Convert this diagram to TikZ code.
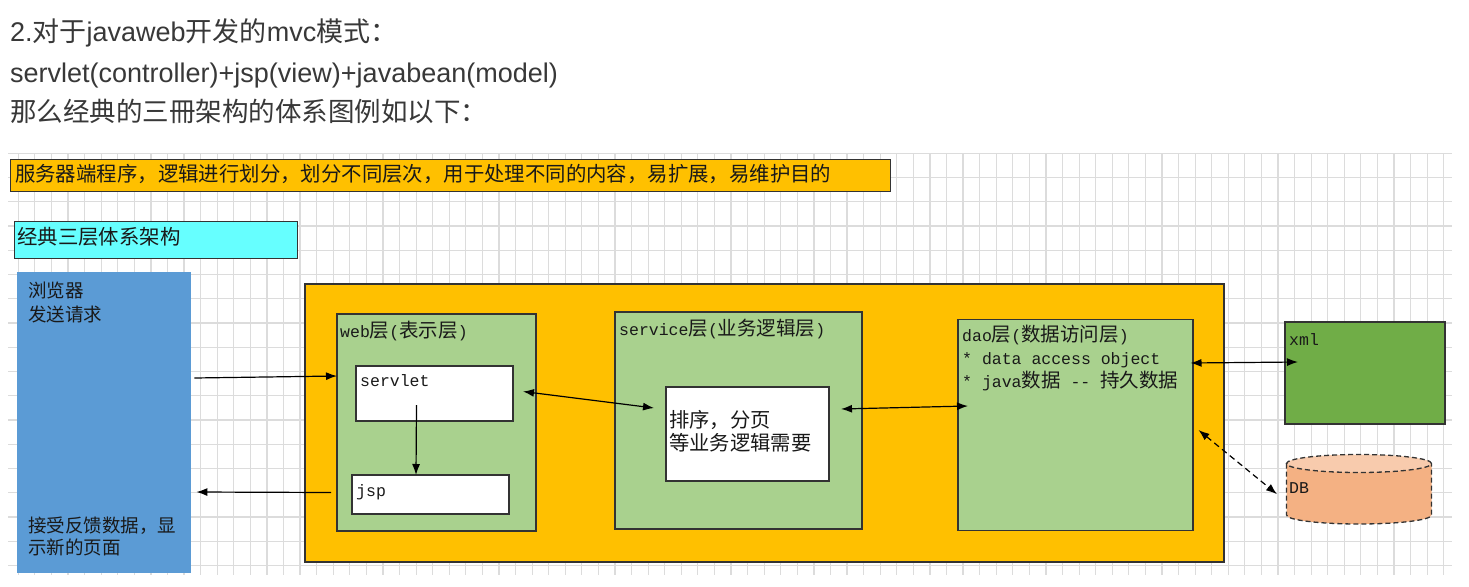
\documentclass[tikz,border=0pt]{standalone}
\usepackage{fontspec}
\setmainfont{Liberation Sans}
\newfontfamily\cjk{Noto Sans CJK SC}
\newfontfamily\mono{Liberation Mono}
\usetikzlibrary{arrows.meta}

\definecolor{layerorange}{HTML}{FFC000}
\definecolor{aqua}{HTML}{66FFFF}
\definecolor{browserblue}{HTML}{5B9BD5}
\definecolor{layergreen}{HTML}{A9D18E}
\definecolor{xmlgreen}{HTML}{70AD47}
\definecolor{dbfill}{HTML}{F4B183}
\definecolor{dbtop}{HTML}{F8CBAD}
\definecolor{gridgray}{HTML}{DCDCDC}
\definecolor{boxline}{HTML}{333333}
\definecolor{titlegray}{HTML}{383838}

\newcommand{\zh}[1]{{\cjk\fontsize{19.5}{22}\selectfont #1}}

\begin{document}
\begin{tikzpicture}[x=1pt,y=-1pt,
  box/.style={draw=boxline,line width=1.4pt,inner sep=0pt,outer sep=0pt,anchor=north west},
  txt/.style={anchor=base west,inner sep=0pt,text=black!90},
  lbl/.style={txt,font=\mono\fontsize{16.5}{20}\selectfont},
  zhtxt/.style={txt,font=\cjk\fontsize{#1}{24}\selectfont},
  arr/.style={-{Latex[length=11pt,width=8pt]},line width=1.2pt},
  dbl/.style={{Latex[length=11pt,width=8pt]}-{Latex[length=11pt,width=8pt]},line width=1.2pt}]
\fill[white] (0,0) rectangle (1469,586);
\useasboundingbox (0,0) rectangle (1469,586);

% heading
\node[txt,font=\fontsize{27}{30}\selectfont,text=titlegray] (head1) at (10,42) {2.{\cjk 对于}javaweb{\cjk 开发的}mvc{\cjk 模式：}};
\node[txt,font=\fontsize{27}{30}\selectfont,text=titlegray] (head2) at (10,82) {servlet(controller)+jsp(view)+javabean(model)};
\node[txt,font=\cjk\fontsize{26.5}{30}\selectfont,text=titlegray] (head3) at (10,121) {那么经典的三冊架构的体系图例如以下：};

% grid
\foreach \i in {0,...,86}
  \draw[gridgray,line width=1.2pt] ({18.3+16.575*\i},153.3) -- ({18.3+16.575*\i},575);
\foreach \j in {0,...,17}
  \draw[gridgray,line width=1.2pt] (8,{153.3+24.24*\j}) -- (1452,{153.3+24.24*\j});

% notes
\node[box,fill=layerorange,minimum width=880pt,minimum height=32pt] (note) at (10.5,159.5) {};
\node[zhtxt=20.4] (notetext) at (15,181) {服务器端程序，逻辑进行划分，划分不同层次，用于处理不同的内容，易扩展，易维护目的};
\node[box,fill=aqua,minimum width=283pt,minimum height=37pt] (classic) at (14.5,221.5) {};
\node[zhtxt=20.4] (classictext) at (17,244.5) {经典三层体系架构};

% browser
\node[anchor=north west,fill=browserblue,inner sep=0pt,minimum width=174pt,minimum height=301pt] (browser) at (17,272) {};
\node[zhtxt=18.5] (send1) at (28,297) {浏览器};
\node[zhtxt=18.5] (send2) at (28,321) {发送请求};
\node[zhtxt=18.5] (recv1) at (28,532) {接受反馈数据，显};
\node[zhtxt=18.5] (recv2) at (28,554) {示新的页面};

% server
\node[box,fill=layerorange,minimum width=919pt,minimum height=278pt] (server) at (305,284) {};

% web layer
\node[box,fill=layergreen,minimum width=199pt,minimum height=217pt] (web) at (337,314) {};
\node[lbl] (webtext) at (340,337) {web\zh{层}(\zh{表示层})};
\node[box,fill=white,minimum width=157pt,minimum height=55pt] (servlet) at (356,366) {};
\node[lbl] (servlettext) at (360,386) {servlet};
\node[box,fill=white,minimum width=157pt,minimum height=39pt] (jsp) at (352,475) {};
\node[lbl] (jsptext) at (356,496) {jsp};

% service layer
\node[box,fill=layergreen,minimum width=247pt,minimum height=217pt] (service) at (615,312) {};
\node[lbl] (servicetext) at (619,335) {service\zh{层}(\zh{业务逻辑层})};
\node[box,fill=white,minimum width=163pt,minimum height=94pt] (logic) at (666,387) {};
\node[zhtxt=20.3] (logic1) at (669,427.5) {排序，分页};
\node[zhtxt=20.3] (logic2) at (669,450) {等业务逻辑需要};

% dao layer
\node[box,fill=layergreen,minimum width=235pt,minimum height=211pt] (dao) at (958,319.5) {};
\node[lbl] (dao1) at (962,341) {dao\zh{层}(\zh{数据访问层})};
\node[lbl] (dao2) at (962,364.5) {* data access object};
\node[lbl] (dao3) at (962,387) {* java\zh{数据} -- \zh{持久数据}};

% storage
\node[box,fill=xmlgreen,minimum width=160pt,minimum height=102pt] (xml) at (1285,322) {};
\node[lbl] (xmltext) at (1289,345) {xml};
\node[anchor=north west,inner sep=0pt,minimum width=145pt,minimum height=70pt] (db) at (1286.5,454.5) {};
\fill[dbfill] (1286.5,463.5) -- (1286.5,515) arc[start angle=180,end angle=360,x radius=72.5pt,y radius=9pt] -- (1431.5,463.5) -- cycle;
\fill[dbtop] (1359,463.5) ellipse [x radius=72.5pt,y radius=9pt];
\draw[boxline,line width=1.3pt,dash pattern=on 5pt off 3pt] (1286.5,463.5) -- (1286.5,515) arc[start angle=180,end angle=360,x radius=72.5pt,y radius=9pt] -- (1431.5,463.5);
\draw[boxline,line width=1.3pt,dash pattern=on 5pt off 3pt] (1359,463.5) ellipse [x radius=72.5pt,y radius=9pt];
\node[lbl] (dbtext) at (1289,493) {DB};

% connectors
\draw[arr] ([shift={(3,106)}]browser.north east) -- ([shift={(0,62)}]web.north west);
\draw[arr] ([shift={(-21,-2)}]jsp.west) -- ([shift={(5,220)}]browser.north east);
\draw[arr] ([shift={(-18,-16)}]servlet.south) -- ([xshift=-14.5pt]jsp.north);
\draw[dbl] ([shift={(10,-2)}]servlet.east) -- ([shift={(-12,-26)}]logic.west);
\draw[dbl] ([shift={(12,-25)}]logic.east) -- ([shift={(10,-19)}]dao.west);
\draw[dbl] ([shift={(-2.5,-62)}]dao.east) -- ([shift={(13,-11)}]xml.west);
\draw[dbl,dash pattern=on 6pt off 4pt] ([shift={(5.5,5)}]dao.east) -- ([shift={(-9.5,4.5)}]db.west);
\end{tikzpicture}
\end{document}
